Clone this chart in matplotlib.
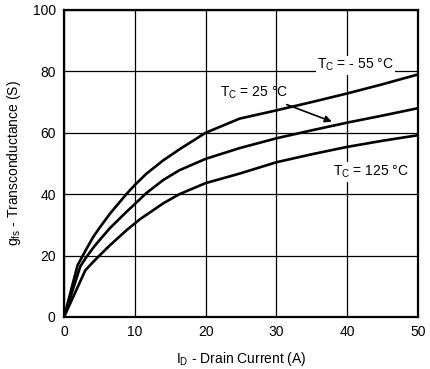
import matplotlib
matplotlib.use("Agg")
import matplotlib.pyplot as plt

plt.rcParams['font.family'] = ['Liberation Sans', 'DejaVu Sans']

# drain current (A) and transconductance (S)
id_m55 = [0, 1.9, 3, 4.1, 5, 6.5, 8.8, 10, 11.6, 14, 16.3, 20, 24.8, 30, 35, 40, 45, 50]
gfs_m55 = [0, 16.8, 21.5, 26, 29, 33.7, 40, 43, 46.6, 51, 54.6, 60, 64.6, 67.3, 70, 72.8, 75.8, 79]

id_25 = [0, 2.3, 3, 4.1, 5, 6.5, 8.8, 10, 11.6, 14, 16.3, 20, 24.8, 30, 35, 40, 45, 50]
gfs_25 = [0, 16.5, 19, 22.5, 25, 29, 34.2, 36.8, 40.3, 44.6, 47.8, 51.5, 55, 58.2, 60.8, 63.3, 65.6, 68]

id_125 = [0, 3, 4.1, 5, 6.5, 8.8, 10.7, 14, 16.3, 20, 24.8, 30, 35, 40, 45, 50]
gfs_125 = [0, 15.2, 17.9, 20, 23.4, 28.2, 31.8, 37, 40, 43.6, 46.7, 50.4, 53, 55.4, 57.4, 59.2]

x_ticks = [0, 10, 20, 30, 40, 50]
y_ticks = [0, 20, 40, 60, 80, 100]

fig = plt.figure(figsize=(4.30, 3.69), dpi=100)
ax = fig.add_axes([0.149, 0.141, 0.823, 0.832])

for xs, ys in [(id_m55, gfs_m55), (id_25, gfs_25), (id_125, gfs_125)]:
    ax.plot(xs, ys, color="black", lw=1.9, solid_capstyle="round",
            solid_joinstyle="round", zorder=3)

ax.set_xlim(0, 50)
ax.set_ylim(0, 100)
ax.set_xticks(x_ticks)
ax.set_yticks(y_ticks)
ax.tick_params(length=0, labelsize=10, pad=6)
ax.grid(True, color="black", lw=0.9)
for s in ax.spines.values():
    s.set_linewidth(1.6)

ax.set_xlabel("I$_\\mathregular{D}$ - Drain Current (A)", fontsize=10, labelpad=8)
ax.set_ylabel("g$_\\mathregular{fs}$ - Transconductance (S)", fontsize=10, labelpad=7)

bbox = dict(facecolor="white", edgecolor="none", pad=1)
ax.text(35.8, 82, "T$_\\mathregular{C}$ = - 55 °C", fontsize=10, va="center", bbox=bbox, zorder=4)
ax.text(22, 72.9, "T$_\\mathregular{C}$ = 25 °C", fontsize=10, va="center", zorder=4)
ax.text(38, 47.2, "T$_\\mathregular{C}$ = 125 °C", fontsize=10, va="center", bbox=bbox, zorder=4)
ax.annotate("", xy=(38.2, 63.3), xytext=(31.1, 69.5),
            arrowprops=dict(arrowstyle="-|>", color="black", lw=1.2, mutation_scale=10),
            zorder=4)

fig.savefig("out.png", dpi=100)
